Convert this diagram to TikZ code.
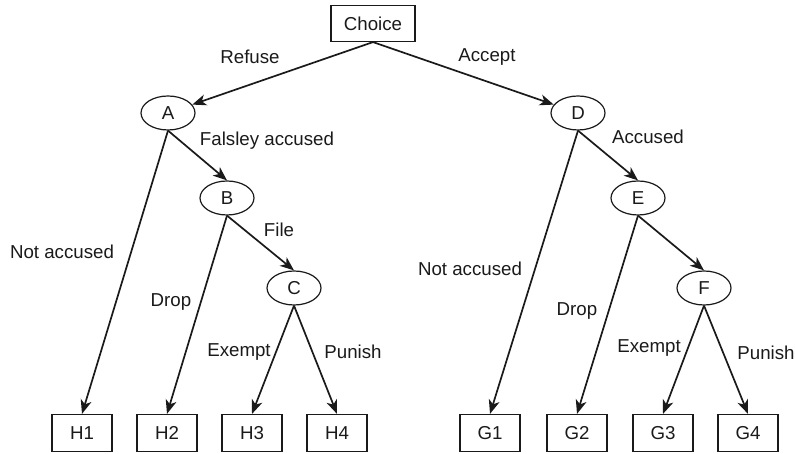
\documentclass[tikz,border=0pt]{standalone}
\usepackage{fontspec}
\setmainfont{Liberation Sans}
\usetikzlibrary{shapes.geometric,arrows.meta}
\definecolor{TreeInk}{HTML}{1A1A1A}
\newcommand{\TreeFont}{\fontsize{18.7}{22}\selectfont}
\tikzset{
  choice box/.style={draw=TreeInk,line width=1.2pt,minimum width=84pt,minimum height=36pt,inner sep=0pt,font=\TreeFont,text=TreeInk},
  chance node/.style={ellipse,draw=TreeInk,line width=1.2pt,minimum width=54pt,minimum height=34pt,inner sep=0pt,font=\TreeFont,text=TreeInk},
  leaf box/.style={draw=TreeInk,line width=1.2pt,minimum width=60pt,minimum height=37pt,inner sep=0pt,font=\TreeFont,text=TreeInk},
  branch/.style={draw=TreeInk,line width=1.7pt,-{Stealth[length=14pt,width=11pt,inset=4pt]}},
  branch label/.style={text=TreeInk,font=\TreeFont,inner sep=0pt}
}

\begin{document}
\begin{tikzpicture}[x=1pt,y=1pt]
  % pixel grid of the original figure, y measured upwards
  \path[use as bounding box] (0,0) rectangle (795,454);

  \node[choice box] (choice) at (373,430.5) {Choice};

  \node[chance node] (A) at (168,341) {A};
  \node[chance node] (B) at (227,256) {B};
  \node[chance node] (C) at (294,166) {C};
  \node[chance node] (D) at (578,341) {D};
  \node[chance node] (E) at (638,256) {E};
  \node[chance node] (F) at (704,166) {F};

  \foreach \leaf/\xx in {H1/82,H2/167,H3/252,H4/337,G1/490,G2/577,G3/663,G4/748}{
    \node[leaf box] (\leaf) at (\xx,21) {\leaf};
  }

  \draw[branch] (choice.south) -- (A);
  \draw[branch] (choice.south) -- (D);
  \draw[branch] (A.south) -- (H1.north);
  \draw[branch] (A.south) -- (B.north);
  \draw[branch] (B.south) -- (H2.north);
  \draw[branch] (B.south) -- (C.north);
  \draw[branch] (C.south) -- (H3.north);
  \draw[branch] (C.south) -- (H4.north);
  \draw[branch] (D.south) -- (G1.north);
  \draw[branch] (D.south) -- (E.north);
  \draw[branch] (E.south) -- (G2.north);
  \draw[branch] (E.south) -- (F.north);
  \draw[branch] (F.south) -- (G3.north);
  \draw[branch] (F.south) -- (G4.north);

  \node[branch label] (refuse) at (250,397) {Refuse};
  \node[branch label] (accept) at (487,397) {Accept};
  \node[branch label] (falsely) at (267,313) {Falsley accused};
  \node[branch label] (notaccA) at (62,202) {Not accused};
  \node[branch label] (file) at (279,224) {File};
  \node[branch label] (dropB) at (171,152) {Drop};
  \node[branch label] (exemptC) at (239,102) {Exempt};
  \node[branch label] (punishC) at (353,102) {Punish};
  \node[branch label] (accused) at (648,317) {Accused};
  \node[branch label] (notaccD) at (470,185) {Not accused};
  \node[branch label] (dropE) at (577,143) {Drop};
  \node[branch label] (exemptF) at (649,106) {Exempt};
  \node[branch label] (punishF) at (766,101) {Punish};
\end{tikzpicture}
\end{document}
